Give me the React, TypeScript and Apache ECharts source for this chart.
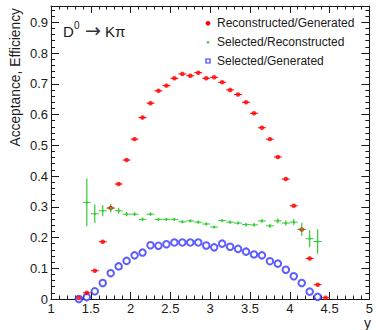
import React, { useEffect, useRef } from "react";
import * as echarts from "echarts";

// Bin centres of the rapidity histogram (bin width 0.1)
const binCenters = [
  1.35, 1.45, 1.55, 1.65, 1.75, 1.85, 1.95, 2.05, 2.15, 2.25, 2.35, 2.45, 2.55, 2.65, 2.75, 2.85,
  2.95, 3.05, 3.15, 3.25, 3.35, 3.45, 3.55, 3.65, 3.75, 3.85, 3.95, 4.05, 4.15, 4.25, 4.35, 4.45,
];
const binHalfWidth = 0.05;

// Reconstructed/Generated (bins 1.35 .. 4.45)
const recoGen = [
  0.003, 0.02, 0.092, 0.186, 0.296, 0.374, 0.452, 0.52, 0.59, 0.637, 0.677, 0.694, 0.718, 0.732, 0.726, 0.736,
  0.718, 0.721, 0.705, 0.68, 0.665, 0.64, 0.604, 0.557, 0.52, 0.462, 0.39, 0.303, 0.226, 0.132, 0.0465, 0.004,
];

// Selected/Reconstructed (bins 1.45 .. 4.35)
const selReco = [
  0.314, 0.277, 0.287, 0.295, 0.287, 0.276, 0.276, 0.259, 0.276, 0.259, 0.259, 0.259, 0.251, 0.254, 0.25,
  0.244, 0.234, 0.255, 0.25, 0.247, 0.242, 0.241, 0.254, 0.238, 0.254, 0.247, 0.25, 0.227, 0.196, 0.187,
];
const selRecoErr = [
  0.077, 0.03, 0.018, 0.014, 0.01, 0.007, 0.006, 0.006, 0.006, 0.005, 0.005, 0.005, 0.005, 0.005, 0.005,
  0.005, 0.005, 0.005, 0.005, 0.005, 0.006, 0.006, 0.006, 0.007, 0.008, 0.008, 0.01, 0.021, 0.028, 0.04,
];

// Selected/Generated (bins 1.35 .. 4.35)
const selGen = [
  0.0, 0.006, 0.025, 0.052, 0.084, 0.106, 0.124, 0.142, 0.151, 0.175, 0.173, 0.178, 0.184, 0.184, 0.184, 0.184,
  0.174, 0.168, 0.18, 0.17, 0.163, 0.154, 0.145, 0.142, 0.123, 0.115, 0.095, 0.074, 0.052, 0.024, 0.007,
];

const seriesNames = ["Reconstructed/Generated", "Selected/Reconstructed", "Selected/Generated"];
const xAxisTitle = "y";
const yAxisTitle = "Acceptance, Efficiency";

const RED = "#ff0000";
const GREEN = "#33cc33";
const BLUE = "#3434ff";
const INK = "#1a1a1a";
const FONT = "'Liberation Sans', Arial, Helvetica, sans-serif";

const X_MIN = 1;
const X_MAX = 5;
const Y_MIN = 0;
const Y_MAX = 0.953;

function errorBarSeries(data: number[][], color: string, vertical: boolean) {
  return {
    type: "custom",
    silent: true,
    z: 2,
    clip: true,
    encode: { x: 0, y: 1 },
    data,
    renderItem: (_params: any, api: any) => {
      const x = api.value(0);
      const y = api.value(1);
      const e = api.value(2);
      const l = api.coord([x - binHalfWidth, y]);
      const r = api.coord([x + binHalfWidth, y]);
      const children: any[] = [
        {
          type: "line",
          shape: { x1: l[0], y1: l[1], x2: r[0], y2: r[1] },
          style: { stroke: color, lineWidth: 1 },
        },
      ];
      if (vertical) {
        const t = api.coord([x, y + e]);
        const b = api.coord([x, y - e]);
        children.push({
          type: "line",
          shape: { x1: t[0], y1: t[1], x2: b[0], y2: b[1] },
          style: { stroke: color, lineWidth: 1.2 },
        });
      }
      return { type: "group", children };
    },
  };
}

export default function App() {
  const ref = useRef<HTMLDivElement>(null);

  useEffect(() => {
    if (!ref.current) return;
    const chart = echarts.init(ref.current, undefined, { renderer: "svg" });

    const redData = binCenters.map((x, i) => [x, recoGen[i], 0]);
    const greenData = selReco.map((v, i) => [binCenters[i + 1], v, selRecoErr[i]]);
    const blueData = selGen.map((v, i) => [binCenters[i], v]);

    const baseX = {
      type: "value",
      min: X_MIN,
      max: X_MAX,
      interval: 0.5,
      axisLine: { show: true, onZero: false, lineStyle: { color: INK, width: 1 } },
      axisTick: { show: true, inside: true, length: 7, lineStyle: { color: INK, width: 1 } },
      minorTick: { show: true, splitNumber: 5, length: 3.5, lineStyle: { color: INK, width: 1 } },
      splitLine: { show: false },
    };
    const baseY = {
      type: "value",
      min: Y_MIN,
      max: Y_MAX,
      interval: 0.1,
      axisLine: { show: true, onZero: false, lineStyle: { color: INK, width: 1 } },
      axisTick: { show: true, inside: true, length: 8, lineStyle: { color: INK, width: 1 } },
      minorTick: { show: true, splitNumber: 5, length: 4, lineStyle: { color: INK, width: 1 } },
      splitLine: { show: false },
    };

    const legendRows = [
      { y: 23.3, text: seriesNames[0] },
      { y: 42.3, text: seriesNames[1] },
      { y: 61, text: seriesNames[2] },
    ];

    chart.setOption({
      animation: false,
      backgroundColor: "#ffffff",
      grid: { left: 51, right: 5, top: 6, bottom: 31, containLabel: false },
      xAxis: [
        {
          ...baseX,
          position: "bottom",
          axisLabel: {
            show: true,
            margin: 3,
            color: INK,
            fontSize: 13,
            fontFamily: FONT,
            showMinLabel: true,
            showMaxLabel: true,
          },
        },
        { ...baseX, position: "top", axisLabel: { show: false } },
      ],
      yAxis: [
        {
          ...baseY,
          position: "left",
          axisLabel: {
            show: true,
            margin: 3,
            color: INK,
            fontSize: 13,
            fontFamily: FONT,
            showMaxLabel: false,
          },
        },
        { ...baseY, position: "right", axisLabel: { show: false } },
      ],
      series: [
        errorBarSeries(redData, RED, false),
        errorBarSeries(greenData, GREEN, true),
        {
          name: seriesNames[2],
          type: "scatter",
          data: blueData,
          symbol: "emptyCircle",
          symbolSize: 6.5,
          itemStyle: { color: BLUE, borderColor: BLUE, borderWidth: 1.6 },
          z: 3,
        },
        {
          name: seriesNames[0],
          type: "scatter",
          data: redData,
          symbol: "circle",
          symbolSize: 4.6,
          itemStyle: { color: RED },
          z: 4,
        },
        {
          name: seriesNames[1],
          type: "scatter",
          data: greenData,
          symbol: "circle",
          symbolSize: 2.6,
          itemStyle: { color: GREEN },
          z: 5,
        },
      ],
      graphic: [
        {
          type: "text",
          x: 15,
          y: 8,
          rotation: Math.PI / 2,
          style: {
            text: yAxisTitle,
            fontSize: 13.8,
            fontFamily: FONT,
            fill: INK,
            align: "right",
            verticalAlign: "middle",
          },
        },
        {
          type: "text",
          x: 371,
          y: 323,
          style: {
            text: xAxisTitle,
            fontSize: 14,
            fontFamily: FONT,
            fill: INK,
            align: "right",
            verticalAlign: "middle",
          },
        },
        {
          type: "text",
          x: 63,
          y: 31,
          style: { text: "D", fontSize: 15, fontFamily: FONT, fill: INK, align: "left", verticalAlign: "middle" },
        },
        {
          type: "text",
          x: 74,
          y: 25,
          style: { text: "0", fontSize: 10, fontFamily: FONT, fill: INK, align: "left", verticalAlign: "middle" },
        },
        {
          type: "text",
          x: 85,
          y: 30,
          style: {
            text: "→",
            fontSize: 19,
            fontFamily: "'DejaVu Sans', sans-serif",
            fill: "#333",
            align: "left",
            verticalAlign: "middle",
          },
        },
        {
          type: "text",
          x: 105,
          y: 31,
          style: { text: "Kπ", fontSize: 15, fontFamily: FONT, fill: INK, align: "left", verticalAlign: "middle" },
        },
        { type: "circle", shape: { cx: 208, cy: legendRows[0].y, r: 2.3 }, style: { fill: RED } },
        { type: "circle", shape: { cx: 208, cy: legendRows[1].y, r: 1.3 }, style: { fill: GREEN } },
        {
          type: "rect",
          shape: { x: 206, y: legendRows[2].y - 2, width: 4, height: 4 },
          style: { fill: "none", stroke: BLUE, lineWidth: 1.2 },
        },
        ...legendRows.map((row) => ({
          type: "text",
          x: 217,
          y: row.y,
          style: {
            text: row.text,
            fontSize: 12,
            fontFamily: FONT,
            fill: INK,
            align: "left",
            verticalAlign: "middle",
          },
        })),
      ],
    });

    return () => chart.dispose();
  }, []);

  return (
    <div
      ref={ref}
      style={{ position: "fixed", left: 0, top: 0, width: 376, height: 330, background: "#fff" }}
    />
  );
}
